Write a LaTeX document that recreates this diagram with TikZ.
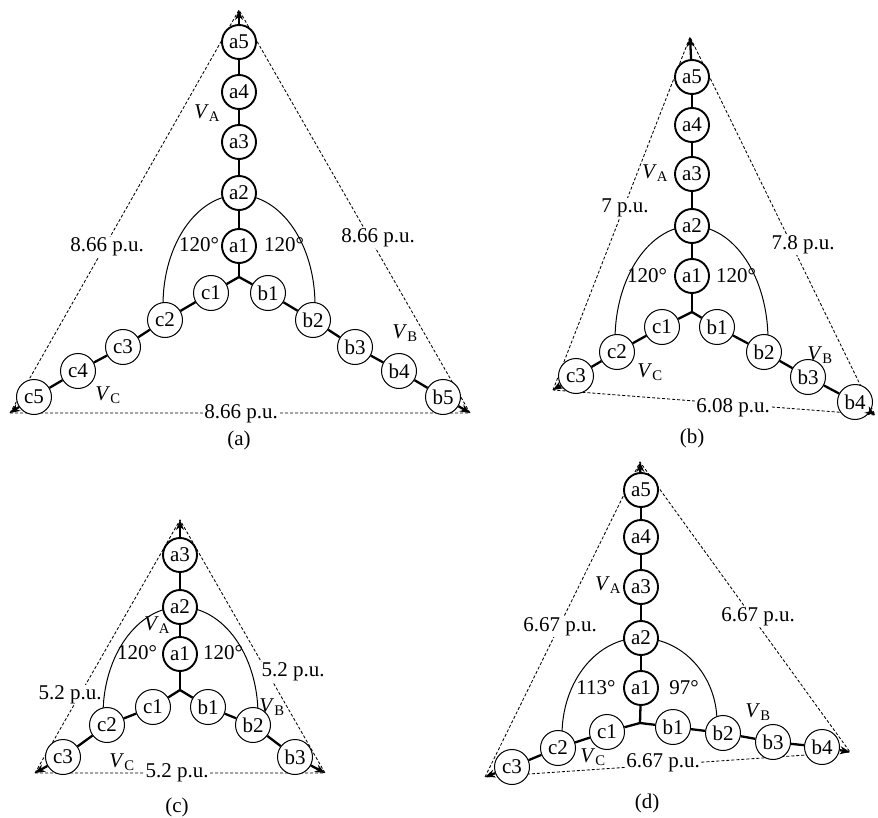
\documentclass[tikz,border=0pt]{standalone}
\usepackage{fontspec}
\setmainfont{Liberation Serif}
\usetikzlibrary{arrows.meta}
\newcommand\Vlab[1]{\textit{V}\textsubscript{#1}}
\begin{document}
\begin{tikzpicture}[x=1pt,y=-1pt,
  every node/.style={font=\fontsize{21}{23}\selectfont},
  nodeA/.style={circle,draw,line width=1.9pt,fill=white,minimum size=34pt,inner sep=0pt},
  nodeB/.style={circle,draw,line width=1pt,fill=white,minimum size=35pt,inner sep=0pt},
  spoke/.style={line width=2.3pt},
  tip/.style={spoke,-{Stealth[length=10pt,width=8pt]}},
  side/.style={line width=0.85pt,dash pattern=on 3pt off 2pt},
  arcline/.style={line width=1pt},
  lab/.style={fill=white,inner sep=1pt},
  txt/.style={inner sep=0pt},
]
\useasboundingbox (0,0) rectangle (878,818);

% ================= (a) =================
\coordinate (AT) at (239,10);
\coordinate (AL) at (10,413);
\coordinate (AR) at (470,413);
\coordinate (AJ) at (239,277);
\draw[side] (AL) -- (AT) -- (AR) -- cycle;
\draw[arcline] (163,305) arc[start angle=180,end angle=0,x radius=76pt,y radius=110pt];
\node[nodeA] (Aa1) at (239,246) {a1};
\node[nodeA] (Aa2) at (239,193) {a2};
\node[nodeA] (Aa3) at (239,142) {a3};
\node[nodeA] (Aa4) at (239,92) {a4};
\node[nodeA] (Aa5) at (239,42) {a5};
\node[nodeB] (Ac1) at (211,293) {c1};
\node[nodeB] (Ac2) at (165,320) {c2};
\node[nodeB] (Ac3) at (123,347) {c3};
\node[nodeB] (Ac4) at (78,371) {c4};
\node[nodeB] (Ac5) at (34,397) {c5};
\node[nodeB] (Ab1) at (268,293) {b1};
\node[nodeB] (Ab2) at (313,320) {b2};
\node[nodeB] (Ab3) at (355,347) {b3};
\node[nodeB] (Ab4) at (399,371) {b4};
\node[nodeB] (Ab5) at (443,397) {b5};
\draw[spoke] (AJ) -- (Aa1);
\draw[spoke] (AJ) -- (Ac1);
\draw[spoke] (AJ) -- (Ab1);
\draw[spoke] (Aa1) -- (Aa2);
\draw[spoke] (Aa2) -- (Aa3);
\draw[spoke] (Aa3) -- (Aa4);
\draw[spoke] (Aa4) -- (Aa5);
\draw[spoke] (Ac1) -- (Ac2);
\draw[spoke] (Ac2) -- (Ac3);
\draw[spoke] (Ac3) -- (Ac4);
\draw[spoke] (Ac4) -- (Ac5);
\draw[spoke] (Ab1) -- (Ab2);
\draw[spoke] (Ab2) -- (Ab3);
\draw[spoke] (Ab3) -- (Ab4);
\draw[spoke] (Ab4) -- (Ab5);
\draw[tip] (Aa5) -- (AT);
\draw[tip] (Ac5) -- (AL);
\draw[tip] (Ab5) -- (AR);
\node[lab] (Alabl) at (107,247) {8.66 p.u.};
\node[lab] (Alabr) at (378,238) {8.66 p.u.};
\node[lab] (Alabb) at (241,414) {8.66 p.u.};
\node[txt] (Aangl) at (199,245) {120°};
\node[txt] (Aangr) at (284,245) {120°};
\node[txt] (AVA) at (207,113) {\Vlab{A}};
\node[txt] (AVB) at (405,333) {\Vlab{B}};
\node[txt] (AVC) at (108,395) {\Vlab{C}};
\node[txt] (Acap) at (239,440) {(a)};

% ================= (b) =================
\coordinate (BT) at (690,37);
\coordinate (BL) at (553,390);
\coordinate (BR) at (875,415);
\coordinate (BJ) at (692,312);
\draw[side] (BL) -- (BT) -- (BR) -- cycle;
\draw[arcline] (615,340) arc[start angle=180,end angle=90,x radius=77pt,y radius=114pt];
\draw[arcline] (768,340) arc[start angle=0,end angle=90,x radius=76pt,y radius=114pt];
\node[nodeA] (Ba1) at (692,276) {a1};
\node[nodeA] (Ba2) at (692,226) {a2};
\node[nodeA] (Ba3) at (692,174) {a3};
\node[nodeA] (Ba4) at (692,125) {a4};
\node[nodeA] (Ba5) at (692,77) {a5};
\node[nodeB] (Bc1) at (662,327) {c1};
\node[nodeB] (Bc2) at (617,352) {c2};
\node[nodeB] (Bc3) at (576,376) {c3};
\node[nodeB] (Bb1) at (717,327) {b1};
\node[nodeB] (Bb2) at (764,352) {b2};
\node[nodeB] (Bb3) at (808,377) {b3};
\node[nodeB] (Bb4) at (855,402) {b4};
\draw[spoke] (BJ) -- (Ba1);
\draw[spoke] (BJ) -- (Bc1);
\draw[spoke] (BJ) -- (Bb1);
\draw[spoke] (Ba1) -- (Ba2);
\draw[spoke] (Ba2) -- (Ba3);
\draw[spoke] (Ba3) -- (Ba4);
\draw[spoke] (Ba4) -- (Ba5);
\draw[spoke] (Bc1) -- (Bc2);
\draw[spoke] (Bc2) -- (Bc3);
\draw[spoke] (Bb1) -- (Bb2);
\draw[spoke] (Bb2) -- (Bb3);
\draw[spoke] (Bb3) -- (Bb4);
\draw[tip] (Ba5) -- (BT);
\draw[tip] (Bc3) -- (BL);
\draw[tip] (Bb4) -- (BR);
\node[lab] (Blabl) at (625,208) {7 p.u.};
\node[lab] (Blabr) at (803,245) {7.8 p.u.};
\node[lab] (Blabb) at (733,408) {6.08 p.u.};
\node[txt] (Bangl) at (647,276) {120°};
\node[txt] (Bangr) at (736,276) {120°};
\node[txt] (BVA) at (655,173) {\Vlab{A}};
\node[txt] (BVB) at (820,355) {\Vlab{B}};
\node[txt] (BVC) at (650,372) {\Vlab{C}};
\node[txt] (Bcap) at (692,438) {(b)};

% ================= (c) =================
\coordinate (CT) at (180,520);
\coordinate (CL) at (35,773);
\coordinate (CR) at (325,773);
\coordinate (CJ) at (180,690);
\draw[side] (CL) -- (CT) -- (CR) -- cycle;
\draw[arcline] (103,715) arc[start angle=180,end angle=0,x radius=77.5pt,y radius=108pt];
\node[nodeA] (Ca1) at (180,654) {a1};
\node[nodeA] (Ca2) at (180,607) {a2};
\node[nodeA] (Ca3) at (180,555) {a3};
\node[nodeB] (Cc1) at (153,707) {c1};
\node[nodeB] (Cc2) at (107,725) {c2};
\node[nodeB] (Cc3) at (63,757) {c3};
\node[nodeB] (Cb1) at (208,707) {b1};
\node[nodeB] (Cb2) at (253,725) {b2};
\node[nodeB] (Cb3) at (295,757) {b3};
\draw[spoke] (CJ) -- (Ca1);
\draw[spoke] (CJ) -- (Cc1);
\draw[spoke] (CJ) -- (Cb1);
\draw[spoke] (Ca1) -- (Ca2);
\draw[spoke] (Ca2) -- (Ca3);
\draw[spoke] (Cc1) -- (Cc2);
\draw[spoke] (Cc2) -- (Cc3);
\draw[spoke] (Cb1) -- (Cb2);
\draw[spoke] (Cb2) -- (Cb3);
\draw[tip] (Ca3) -- (CT);
\draw[tip] (Cc3) -- (CL);
\draw[tip] (Cb3) -- (CR);
\node[lab] (Clabl) at (70,695) {5.2 p.u.};
\node[lab] (Clabr) at (293,672) {5.2 p.u.};
\node[lab] (Clabb) at (177,773) {5.2 p.u.};
\node[txt] (Cangl) at (137,653) {120°};
\node[txt] (Cangr) at (223,653) {120°};
\node[txt] (CVA) at (157,625) {\Vlab{A}};
\node[txt] (CVB) at (272,707) {\Vlab{B}};
\node[txt] (CVC) at (122,762) {\Vlab{C}};
\node[txt] (Ccap) at (177,807) {(c)};

% ================= (d) =================
\coordinate (DT) at (640,462);
\coordinate (DL) at (485,777);
\coordinate (DR) at (850,752);
\coordinate (DJ) at (640,723);
\draw[side] (DL) -- (DT) -- (DR) -- cycle;
\draw[arcline] (562,735) arc[start angle=180,end angle=90,x radius=78pt,y radius=97pt];
\draw[arcline] (717,722) arc[start angle=0,end angle=90,x radius=77pt,y radius=84pt];
\node[nodeA] (Da1) at (641,688) {a1};
\node[nodeA] (Da2) at (641,638) {a2};
\node[nodeA] (Da3) at (641,587) {a3};
\node[nodeA] (Da4) at (641,537) {a4};
\node[nodeA] (Da5) at (641,490) {a5};
\node[nodeB] (Dc1) at (607,732) {c1};
\node[nodeB] (Dc2) at (558,748) {c2};
\node[nodeB] (Dc3) at (512,767) {c3};
\node[nodeB] (Db1) at (673,727) {b1};
\node[nodeB] (Db2) at (723,733) {b2};
\node[nodeB] (Db3) at (773,742) {b3};
\node[nodeB] (Db4) at (822,747) {b4};
\draw[spoke] (DJ) -- (Da1);
\draw[spoke] (DJ) -- (Dc1);
\draw[spoke] (DJ) -- (Db1);
\draw[spoke] (Da1) -- (Da2);
\draw[spoke] (Da2) -- (Da3);
\draw[spoke] (Da3) -- (Da4);
\draw[spoke] (Da4) -- (Da5);
\draw[spoke] (Dc1) -- (Dc2);
\draw[spoke] (Dc2) -- (Dc3);
\draw[spoke] (Db1) -- (Db2);
\draw[spoke] (Db2) -- (Db3);
\draw[spoke] (Db3) -- (Db4);
\draw[tip] (Da5) -- (DT);
\draw[tip] (Dc3) -- (DL);
\draw[tip] (Db4) -- (DR);
\node[lab] (Dlabl) at (560,627) {6.67 p.u.};
\node[lab] (Dlabr) at (758,617) {6.67 p.u.};
\node[lab] (Dlabb) at (663,763) {6.67 p.u.};
\node[txt] (Dangl) at (596,688) {113°};
\node[txt] (Dangr) at (684,688) {97°};
\node[txt] (DVA) at (608,585) {\Vlab{A}};
\node[txt] (DVB) at (758,712) {\Vlab{B}};
\node[txt] (DVC) at (593,757) {\Vlab{C}};
\node[txt] (Dcap) at (647,803) {(d)};
\end{tikzpicture}
\end{document}
